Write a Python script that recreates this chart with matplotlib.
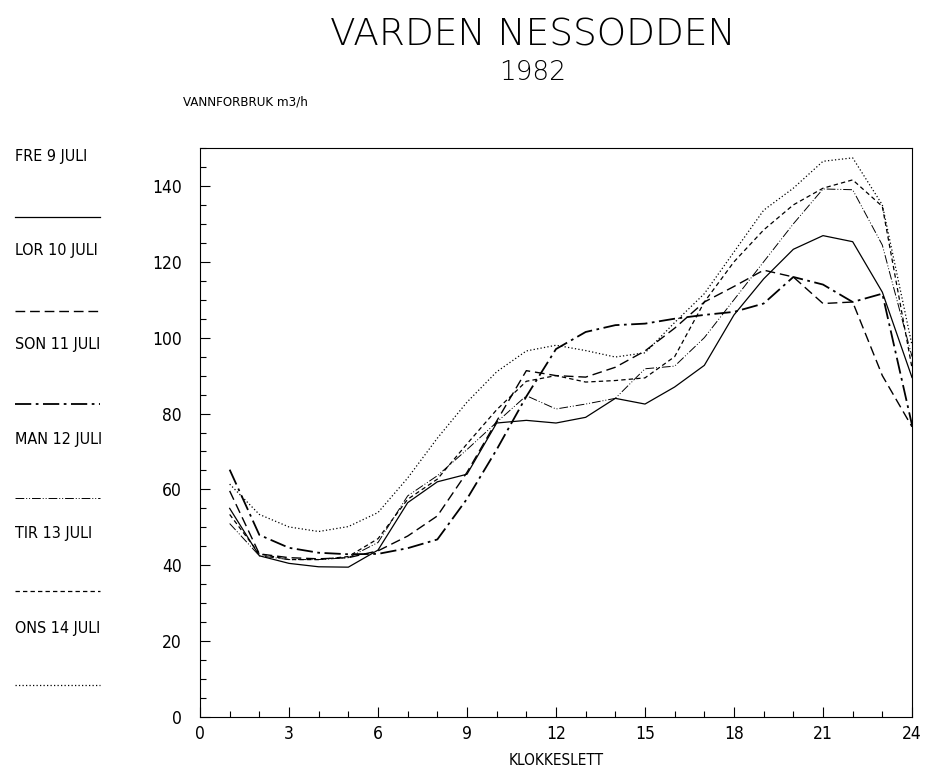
import matplotlib.pyplot as plt
from matplotlib.lines import Line2D
from matplotlib.ticker import MultipleLocator

plt.rcParams['font.family'] = ['DejaVu Sans']
plt.rcParams['font.stretch'] = 'condensed'

hours = list(range(1, 25))

fre = [55, 42.5, 40.5, 39.6, 39.5, 44, 56.5, 62, 64, 77.5, 78.2, 77.5,
       79, 84, 82.5, 87, 92.7, 106, 115.5, 123.3, 126.9, 125.3, 112, 89.5]
lor = [59.6, 43, 42, 41.7, 42, 43.8, 47.7, 53, 64.5, 78, 91.3, 90,
       89.6, 92.2, 96.5, 102.5, 109.4, 113.5, 117.8, 116, 109, 109.4, 90, 76.5]
son = [65.2, 48, 44.6, 43.3, 42.9, 43, 44.5, 46.8, 57.5, 70.5, 84.5, 97,
       101.5, 103.3, 103.7, 105, 106, 106.8, 109, 116, 114, 109.4, 111.6, 77]
man = [51, 42.5, 41.5, 41.5, 42, 46, 58.3, 63.6, 70.5, 77.7, 84.7, 81.2,
       82.5, 84, 91.8, 92.5, 100, 110, 120, 130, 139.2, 139, 124.4, 95]
tir = [53.4, 43, 41.5, 41.5, 42.3, 47, 57.4, 62.7, 72, 81, 88.5, 90,
       88.3, 88.7, 89.4, 95, 109.4, 120, 128.4, 135, 139.4, 141.6, 134.6, 92]
ons = [61.4, 53.4, 50.1, 48.9, 50.2, 53.9, 63, 73.5, 83, 91, 96.5, 98,
       96.6, 94.9, 96, 104, 111.6, 122.6, 133.6, 139.4, 146.5, 147.4, 135, 98]

labels = ['FRE 9 JULI', 'LOR 10 JULI', 'SON 11 JULI',
          'MAN 12 JULI', 'TIR 13 JULI', 'ONS 14 JULI']
series = [fre, lor, son, man, tir, ons]
styles = [
    ('-', 0.9),
    ((0, (7, 3.5)), 1.0),
    ((0, (9, 2.5, 1.5, 2.5)), 1.3),
    ((0, (9, 2, 1, 2, 1, 2)), 0.7),
    ((0, (3.5, 2.5)), 0.9),
    ((0, (1, 1.8)), 0.9),
]

fig = plt.figure(figsize=(9.26, 7.71), dpi=100)
ax = fig.add_axes([200 / 926, 1 - 717 / 771, 712 / 926, 569 / 771])

for vals, (ls, lw) in zip(series, styles):
    ax.plot(hours, vals, color='black', linestyle=ls, linewidth=lw)

ax.set_xlim(0, 24)
ax.set_ylim(0, 150)
ax.xaxis.set_major_locator(MultipleLocator(3))
ax.xaxis.set_minor_locator(MultipleLocator(1))
ax.yaxis.set_major_locator(MultipleLocator(20))
ax.yaxis.set_minor_locator(MultipleLocator(5))
ax.tick_params(which='both', direction='in', top=False, right=False,
               labelsize=12.5, width=0.8)
ax.tick_params(which='major', length=7)
ax.tick_params(which='minor', length=4)
ax.tick_params(axis='y', which='major', pad=13)
ax.tick_params(axis='x', which='major', pad=6)
for sp in ax.spines.values():
    sp.set_linewidth(0.8)

ax.set_xlabel('KLOKKESLETT', fontsize=11, labelpad=7)

fig.text(0.575, 1 - 35 / 771, 'VARDEN NESSODDEN', ha='center', va='center',
         fontsize=27, fontstretch='normal', fontweight='light')
fig.text(0.575, 1 - 72 / 771, '1982', ha='center', va='center',
         fontsize=19, fontstretch='normal', fontweight='light')
fig.text(183 / 926, 1 - 102 / 771, 'VANNFORBRUK m3/h', ha='left', va='center', fontsize=9.5)

# legend down the left side
for i, (lab, (ls, lw)) in enumerate(zip(labels, styles)):
    ty = 156 + i * 94.4
    ly = 217 + i * 93.6
    fig.text(15 / 926, 1 - ty / 771, lab, ha='left', va='center', fontsize=11.5)
    fig.add_artist(Line2D([15 / 926, 100 / 926], [1 - ly / 771, 1 - ly / 771],
                          transform=fig.transFigure, color='black',
                          linestyle=ls, linewidth=lw))

fig.savefig('out.png', dpi=100)
